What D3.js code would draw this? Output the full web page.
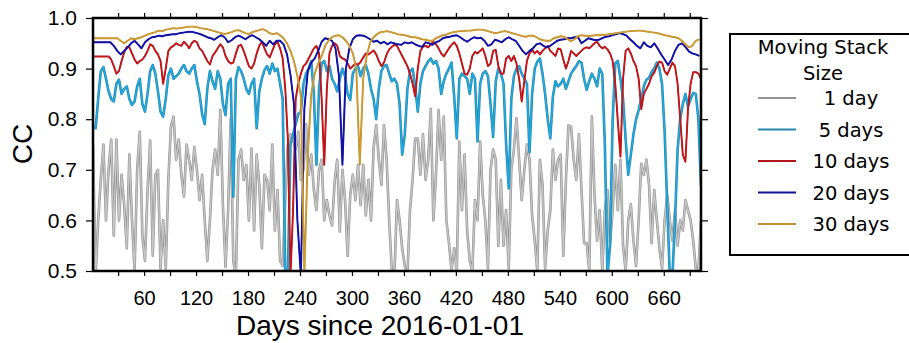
<!DOCTYPE html>
<html>
<head>
<meta charset="utf-8">
<script src="https://cdn.jsdelivr.net/npm/d3@7"></script>
<style>
body { margin: 0; background: #fff; }
svg text { font-family: "Liberation Sans", Arial, sans-serif; fill: #000; }
.legend text { font-family: "DejaVu Sans", sans-serif; }
</style>
</head>
<body>
<svg id="chart" width="909" height="343"></svg>
<script>
// moving stack sizes, drawn bottom to top
var stackNames = ["1 day", "5 days", "10 days", "20 days", "30 days"];
var stackColors = ["#c6c6c6", "#1eaee4", "#c8161b", "#1212ac", "#d09c34"];
var stackEdges = ["#939393", "#2a85ad", "#b01418", "#10109a", "#c0902e"];
var stackSteps = [3, 3, 3, 4, 4]; // days between samples
var firstDay = 1;

var xTicks = d3.range(30, 700, 30);
var xTickLabels = [60, 120, 180, 240, 300, 360, 420, 480, 540, 600, 660];
var yTicks = [0.5, 0.6, 0.7, 0.8, 0.9, 1.0];

// CC, 1 day stack (every 3 days)
var cc1 = [
0.750,0.490,0.600,0.680,0.750,0.600,0.700,0.760,0.570,0.760,
0.600,0.690,0.630,0.545,0.730,0.600,0.500,0.700,0.775,0.570,
0.520,0.660,0.758,0.530,0.690,0.700,0.505,0.600,0.505,0.680,
0.785,0.805,0.720,0.760,0.690,0.647,0.750,0.720,0.680,0.745,
0.700,0.640,0.690,0.600,0.520,0.600,0.700,0.740,0.690,0.818,
0.630,0.508,0.620,0.800,0.520,0.490,0.720,0.740,0.680,0.710,
0.600,0.742,0.580,0.730,0.670,0.545,0.690,0.680,0.620,0.750,
0.580,0.660,0.520,0.510,0.640,0.750,0.770,0.760,0.740,0.775,
0.680,0.700,0.790,0.690,0.730,0.660,0.620,0.700,0.720,0.600,
0.640,0.610,0.590,0.677,0.720,0.578,0.700,0.640,0.530,0.650,
0.690,0.640,0.710,0.630,0.710,0.610,0.680,0.600,0.745,0.788,
0.720,0.670,0.788,0.720,0.600,0.500,0.490,0.640,0.600,0.545,
0.510,0.490,0.620,0.680,0.762,0.762,0.690,0.770,0.680,0.720,
0.820,0.600,0.690,0.818,0.720,0.805,0.600,0.555,0.500,0.545,
0.500,0.756,0.620,0.730,0.580,0.520,0.500,0.640,0.600,0.756,
0.650,0.600,0.505,0.700,0.740,0.720,0.550,0.680,0.550,0.620,
0.505,0.700,0.740,0.802,0.720,0.640,0.700,0.750,0.720,0.610,
0.560,0.500,0.720,0.670,0.505,0.580,0.620,0.740,0.680,0.720,
0.730,0.530,0.680,0.788,0.785,0.720,0.680,0.770,0.660,0.555,
0.555,0.500,0.805,0.650,0.560,0.620,0.500,0.620,0.660,0.555,
0.620,0.710,0.620,0.720,0.550,0.500,0.600,0.632,0.560,0.510,
0.600,0.712,0.690,0.720,0.670,0.555,0.660,0.600,0.545,0.505,
0.600,0.650,0.600,0.560,0.620,0.550,0.600,0.580,0.640,0.620,
0.600,0.560,0.505,0.500,0.600];

// CC, 5 day stack (every 3 days)
var cc5 = [
0.782,0.782,0.840,0.895,0.903,0.880,0.855,0.840,0.835,0.870,
0.878,0.850,0.860,0.865,0.840,0.828,0.835,0.865,0.880,0.830,
0.815,0.850,0.895,0.907,0.890,0.855,0.815,0.805,0.840,0.887,
0.900,0.880,0.885,0.890,0.900,0.907,0.895,0.890,0.900,0.907,
0.875,0.850,0.810,0.790,0.860,0.895,0.875,0.860,0.895,0.880,
0.830,0.808,0.870,0.880,0.647,0.880,0.903,0.895,0.880,0.860,
0.850,0.870,0.880,0.782,0.855,0.880,0.897,0.905,0.890,0.910,
0.895,0.900,0.870,0.840,0.490,0.490,0.750,0.770,0.790,0.810,
0.815,0.870,0.890,0.900,0.915,0.850,0.710,0.860,0.910,0.915,
0.895,0.905,0.880,0.870,0.855,0.880,0.900,0.885,0.850,0.838,
0.890,0.900,0.905,0.885,0.900,0.907,0.890,0.860,0.840,0.800,
0.860,0.895,0.905,0.907,0.890,0.875,0.880,0.870,0.830,0.730,
0.770,0.860,0.895,0.900,0.865,0.815,0.870,0.895,0.905,0.914,
0.920,0.910,0.915,0.900,0.850,0.875,0.890,0.900,0.912,0.845,
0.762,0.880,0.890,0.885,0.880,0.850,0.890,0.880,0.756,0.870,
0.890,0.895,0.885,0.830,0.765,0.875,0.900,0.890,0.870,0.750,
0.663,0.840,0.885,0.900,0.905,0.890,0.880,0.870,0.735,0.850,
0.900,0.914,0.920,0.890,0.850,0.800,0.762,0.845,0.875,0.865,
0.870,0.880,0.860,0.875,0.890,0.898,0.905,0.915,0.912,0.880,
0.858,0.875,0.890,0.880,0.865,0.900,0.890,0.750,0.490,0.550,
0.800,0.910,0.915,0.880,0.840,0.760,0.690,0.730,0.770,0.800,
0.818,0.840,0.865,0.878,0.882,0.893,0.900,0.912,0.900,0.870,
0.775,0.630,0.490,0.490,0.600,0.740,0.800,0.830,0.850,0.825,
0.840,0.852,0.850,0.800,0.667];

// CC, 10 day stack (every 3 days)
var cc10 = [
0.924,0.924,0.924,0.924,0.924,0.924,0.924,0.918,0.905,0.890,
0.895,0.915,0.932,0.943,0.942,0.930,0.918,0.910,0.915,0.918,
0.925,0.935,0.948,0.945,0.935,0.928,0.915,0.870,0.900,0.935,
0.942,0.945,0.950,0.947,0.945,0.953,0.948,0.940,0.950,0.955,
0.952,0.940,0.935,0.925,0.915,0.908,0.925,0.932,0.940,0.948,
0.942,0.925,0.915,0.910,0.912,0.930,0.945,0.947,0.935,0.920,
0.905,0.900,0.910,0.930,0.945,0.953,0.940,0.928,0.922,0.935,
0.948,0.953,0.940,0.920,0.860,0.760,0.490,0.620,0.840,0.870,
0.890,0.905,0.910,0.920,0.930,0.940,0.945,0.930,0.840,0.710,
0.860,0.930,0.945,0.950,0.945,0.925,0.920,0.918,0.910,0.900,
0.905,0.910,0.908,0.913,0.922,0.930,0.928,0.932,0.936,0.928,
0.915,0.905,0.912,0.928,0.938,0.943,0.947,0.945,0.935,0.925,
0.915,0.905,0.890,0.870,0.845,0.900,0.935,0.943,0.945,0.942,
0.948,0.953,0.948,0.940,0.930,0.924,0.932,0.940,0.947,0.952,
0.945,0.930,0.910,0.890,0.888,0.900,0.925,0.933,0.930,0.935,
0.940,0.925,0.905,0.910,0.935,0.937,0.905,0.890,0.890,0.920,
0.925,0.915,0.925,0.910,0.880,0.835,0.875,0.915,0.930,0.937,
0.930,0.935,0.928,0.935,0.940,0.945,0.935,0.930,0.925,0.940,
0.938,0.918,0.900,0.915,0.935,0.930,0.925,0.930,0.935,0.940,
0.942,0.940,0.945,0.950,0.953,0.945,0.940,0.943,0.938,0.930,
0.915,0.870,0.795,0.726,0.880,0.935,0.940,0.930,0.915,0.905,
0.880,0.820,0.850,0.860,0.870,0.885,0.892,0.905,0.914,0.912,
0.895,0.888,0.900,0.912,0.905,0.870,0.800,0.730,0.716,0.820,
0.870,0.893,0.893,0.890,0.880];

// CC, 20 day stack (every 4 days)
var cc20 = [
0.952,0.952,0.952,0.952,0.952,0.952,0.945,0.935,0.928,0.935,
0.942,0.950,0.955,0.948,0.940,0.952,0.958,0.962,0.963,0.965,
0.964,0.966,0.967,0.968,0.968,0.970,0.971,0.972,0.973,0.972,
0.970,0.968,0.965,0.962,0.960,0.957,0.962,0.966,0.962,0.952,
0.956,0.962,0.965,0.962,0.958,0.963,0.966,0.962,0.958,0.952,
0.945,0.955,0.948,0.955,0.955,0.948,0.928,0.888,0.830,0.600,
0.490,0.820,0.895,0.912,0.920,0.935,0.953,0.960,0.958,0.955,
0.940,0.885,0.710,0.900,0.940,0.958,0.965,0.966,0.965,0.962,
0.958,0.953,0.955,0.950,0.953,0.948,0.952,0.950,0.948,0.947,
0.952,0.950,0.952,0.948,0.945,0.943,0.952,0.950,0.947,0.952,
0.955,0.960,0.962,0.963,0.965,0.966,0.962,0.957,0.953,0.958,
0.962,0.960,0.961,0.955,0.945,0.948,0.957,0.955,0.952,0.958,
0.962,0.958,0.955,0.945,0.935,0.928,0.935,0.940,0.948,0.950,
0.945,0.942,0.945,0.950,0.955,0.957,0.958,0.960,0.960,0.962,
0.962,0.950,0.955,0.960,0.958,0.956,0.957,0.960,0.963,0.964,
0.966,0.968,0.970,0.968,0.965,0.958,0.952,0.945,0.940,0.952,
0.945,0.942,0.950,0.940,0.928,0.918,0.907,0.918,0.935,0.947,
0.950,0.943,0.934,0.930,0.928,0.925];

// CC, 30 day stack (every 4 days)
var cc30 = [
0.960,0.960,0.960,0.960,0.960,0.960,0.960,0.960,0.955,0.950,
0.955,0.960,0.958,0.960,0.962,0.965,0.968,0.970,0.972,0.975,
0.974,0.977,0.978,0.980,0.979,0.980,0.981,0.982,0.983,0.983,
0.982,0.980,0.979,0.978,0.976,0.974,0.972,0.970,0.968,0.970,
0.972,0.975,0.976,0.973,0.970,0.968,0.972,0.974,0.976,0.978,
0.975,0.970,0.968,0.970,0.966,0.960,0.950,0.935,0.915,0.885,
0.845,0.490,0.730,0.850,0.890,0.910,0.925,0.945,0.955,0.962,
0.965,0.966,0.962,0.955,0.945,0.930,0.900,0.710,0.880,0.925,
0.952,0.962,0.968,0.972,0.973,0.974,0.972,0.970,0.968,0.967,
0.966,0.964,0.962,0.962,0.960,0.958,0.957,0.955,0.955,0.960,
0.963,0.966,0.967,0.970,0.972,0.973,0.974,0.974,0.975,0.975,
0.976,0.977,0.977,0.976,0.974,0.972,0.970,0.971,0.973,0.974,
0.972,0.970,0.968,0.966,0.964,0.963,0.965,0.965,0.962,0.958,
0.956,0.955,0.955,0.960,0.962,0.964,0.963,0.958,0.954,0.958,
0.964,0.966,0.965,0.964,0.965,0.966,0.966,0.967,0.967,0.968,
0.969,0.970,0.971,0.972,0.973,0.974,0.974,0.975,0.975,0.974,
0.973,0.972,0.971,0.970,0.968,0.966,0.965,0.963,0.962,0.960,
0.955,0.948,0.942,0.945,0.955,0.958];

var stackValues = [cc1, cc5, cc10, cc20, cc30];

var plot = {left: 93, top: 18, right: 701, bottom: 271};
var svg = d3.select("#chart");

var x = d3.scaleLinear().domain([1, 703]).range([plot.left, plot.right]);
var y = d3.scaleLinear().domain([0.5, 1.0]).range([plot.bottom, plot.top]);

var series = stackNames.map(function(name, i){
	return {
		name: name,
		color: stackColors[i],
		edge: stackEdges[i],
		values: stackValues[i].map(function(v, j){
			return {day: firstDay + j * stackSteps[i], cc: v};
		})
	};
});

svg.append("defs").append("clipPath")
	.attr("id", "plotClip")
	.append("rect")
	.attr("x", plot.left)
	.attr("y", plot.top)
	.attr("width", plot.right - plot.left)
	.attr("height", plot.bottom - plot.top);

var line = d3.line()
	.x(d => x(d.day))
	.y(d => y(d.cc));

// each series: a darker edge stroke under a lighter core stroke
var lines = svg.append("g")
	.attr("clip-path", "url(#plotClip)")
	.selectAll("g")
	.data(series)
	.enter().append("g");

lines.append("path")
	.attr("d", d => line(d.values))
	.attr("fill", "none")
	.attr("stroke", d => d.edge)
	.attr("stroke-width", (d, i) => i < 2 ? 2.6 : 1.9)
	.attr("stroke-linejoin", "round");

lines.append("path")
	.attr("d", d => line(d.values))
	.attr("fill", "none")
	.attr("stroke", d => d.color)
	.attr("stroke-width", (d, i) => i < 2 ? 1.3 : 1.1)
	.attr("stroke-linejoin", "round");

// axes: labels on bottom/left, plain ticks on top/right
var xAxis = d3.axisBottom(x)
	.tickValues(xTicks)
	.tickSize(5)
	.tickPadding(15)
	.tickFormat(d => xTickLabels.indexOf(d) >= 0 ? d : "");

svg.append("g")
	.attr("transform", "translate(0," + plot.bottom + ")")
	.call(xAxis)
	.call(g => g.select(".domain").remove())
	.selectAll("text")
	.style("font-size", "20px");

svg.append("g")
	.attr("transform", "translate(0," + plot.top + ")")
	.call(d3.axisTop(x).tickValues(xTicks).tickSize(5).tickFormat(""))
	.call(g => g.select(".domain").remove());

svg.append("g")
	.attr("transform", "translate(" + plot.left + ",0)")
	.call(d3.axisLeft(y).tickValues(yTicks).tickSize(7).tickPadding(9).tickFormat(d3.format(".1f")))
	.call(g => g.select(".domain").remove())
	.selectAll("text")
	.style("font-size", "21px");

svg.append("g")
	.attr("transform", "translate(" + plot.right + ",0)")
	.call(d3.axisRight(y).tickValues(yTicks).tickSize(7).tickFormat(""))
	.call(g => g.select(".domain").remove());

svg.selectAll(".tick line").attr("stroke", "#000").attr("stroke-width", 1.2);

svg.append("rect")
	.attr("x", plot.left)
	.attr("y", plot.top)
	.attr("width", plot.right - plot.left)
	.attr("height", plot.bottom - plot.top)
	.attr("fill", "none")
	.attr("stroke", "#000")
	.attr("stroke-width", 2.5);

svg.append("text")
	.attr("x", 380)
	.attr("y", 335)
	.attr("text-anchor", "middle")
	.style("font-size", "28px")
	.text("Days since 2016-01-01");

svg.append("text")
	.attr("transform", "translate(22,144) rotate(-90)")
	.attr("text-anchor", "middle")
	.attr("dy", "0.36em")
	.style("font-size", "28px")
	.text("CC");

// legend
var legend = svg.append("g").attr("class", "legend");

legend.append("rect")
	.attr("x", 730)
	.attr("y", 34)
	.attr("width", 200)
	.attr("height", 221)
	.attr("fill", "#fff")
	.attr("stroke", "#000")
	.attr("stroke-width", 2);

legend.selectAll(".title")
	.data(["Moving Stack", "Size"])
	.enter().append("text")
	.attr("class", "title")
	.attr("x", 823)
	.attr("y", (d, i) => 54 + i * 26)
	.attr("text-anchor", "middle")
	.style("font-size", "19.5px")
	.text(d => d);

var rows = legend.selectAll(".row")
	.data(series)
	.enter().append("g")
	.attr("class", "row")
	.attr("transform", (d, i) => "translate(0," + (98 + i * 31.5) + ")");

rows.append("line")
	.attr("x1", 758)
	.attr("x2", 796)
	.attr("stroke", d => d.edge)
	.attr("stroke-width", 2.2);

rows.append("text")
	.attr("x", 851)
	.attr("y", 7)
	.attr("text-anchor", "middle")
	.style("font-size", "19.5px")
	.text(d => d.name);
</script>
</body>
</html>
